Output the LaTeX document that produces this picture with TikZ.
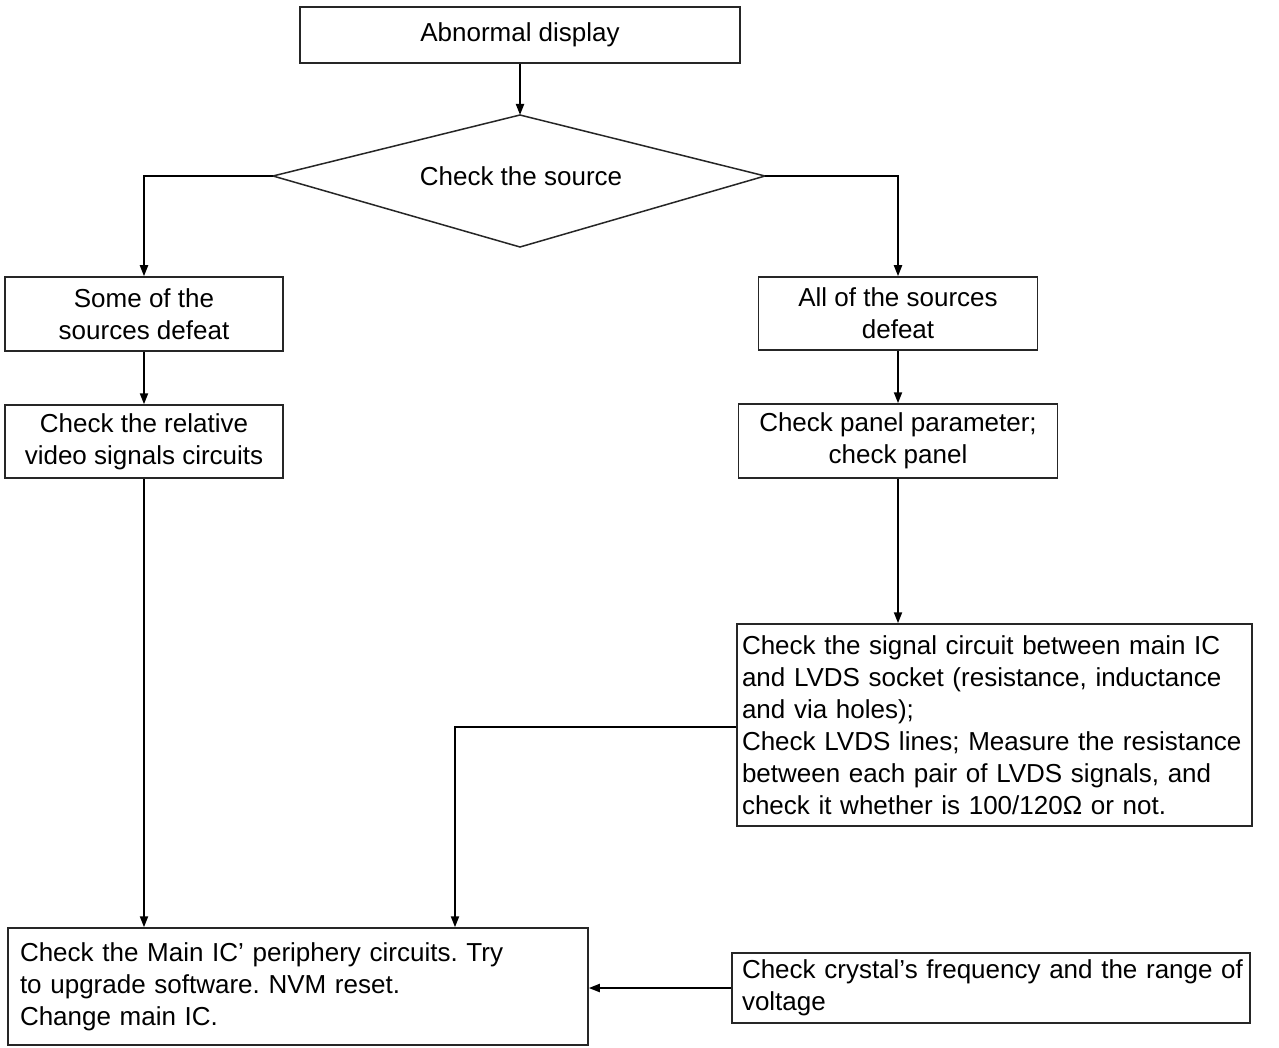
\documentclass[tikz,border=0pt]{standalone}
\usepackage{fontspec}
\setmainfont{Liberation Sans}
\usetikzlibrary{arrows.meta}
\begin{document}
\frenchspacing
\begin{tikzpicture}[x=1pt,y=-1pt,
  box/.style={draw=black!85, line width=1.5pt, rectangle, inner sep=0pt,
    font=\fontsize{26}{32}\selectfont, align=center},
  lbox/.style={box, align=left},
  conn/.style={line width=2pt, -{Triangle[length=11pt,width=8pt]}}]
\useasboundingbox[fill=white] (0,0) rectangle (1279,1048);

\node[box, minimum width=440pt, minimum height=56pt] (b1) at (520,35) {Abnormal display};

\coordinate (dtop) at (520,115);
\coordinate (dbot) at (520,247);
\coordinate (dleft) at (273,176);
\coordinate (dright) at (765,176);
\draw[line width=1.5pt, draw=black!85] (dtop) -- (dright) -- (dbot) -- (dleft) -- cycle;
\node[font=\fontsize{26}{32}\selectfont, inner sep=0pt] (src) at (521,176) {Check the source};

\node[box, minimum width=278pt, minimum height=74pt] (b2) at (144,314) {Some of the\\sources defeat};
\node[box, minimum width=278pt, minimum height=73pt] (b3) at (144,441.5) {Check the relative\\video signals circuits};
\node[box, minimum width=279pt, minimum height=73pt] (b4) at (898,313.5) {All of the sources\\defeat};
\node[box, minimum width=319pt, minimum height=74pt] (b5) at (898,441) {Check panel parameter;\\check panel};
\node[lbox, text width=505pt, inner xsep=5pt, minimum height=202pt] (b6) at (994.5,725)
  {\mbox{Check the signal circuit between main IC}\\\mbox{and LVDS socket (resistance, inductance}\\\mbox{and via holes);}\\\mbox{Check LVDS lines; Measure the resistance}\\\mbox{between each pair of LVDS signals, and}\\\mbox{check it whether is 100/120Ω or not.}};
\node[lbox, text width=556pt, inner xsep=12pt, minimum height=117pt] (b7) at (298,986.5)
  {\mbox{Check the Main IC’ periphery circuits. Try}\\\mbox{to upgrade software. NVM reset.}\\\mbox{Change main IC.}};
\node[lbox, text width=498pt, inner xsep=10pt, minimum height=70pt] (b8) at (991,988)
  {\mbox{Check crystal’s frequency and the range of}\\\mbox{voltage}};

\draw[conn] (b1.south) -- (dtop);
\draw[conn] (dleft) -| (b2.north);
\draw[conn] (dright) -| (b4.north);
\draw[conn] (b2.south) -- (b3.north);
\draw[conn] (b4.south) -- (b5.north);
\draw[conn] (b3.south) -- (b3.south |- b7.north);
\draw[conn] (b5.south) -- (b5.south |- b6.north);
\coordinate (j6) at (455,727);
\draw[conn] (b6.west |- j6) -- (j6) -- (j6 |- b7.north);
\draw[conn] (b8.west) -- (b8.west -| b7.east);
\end{tikzpicture}
\end{document}
